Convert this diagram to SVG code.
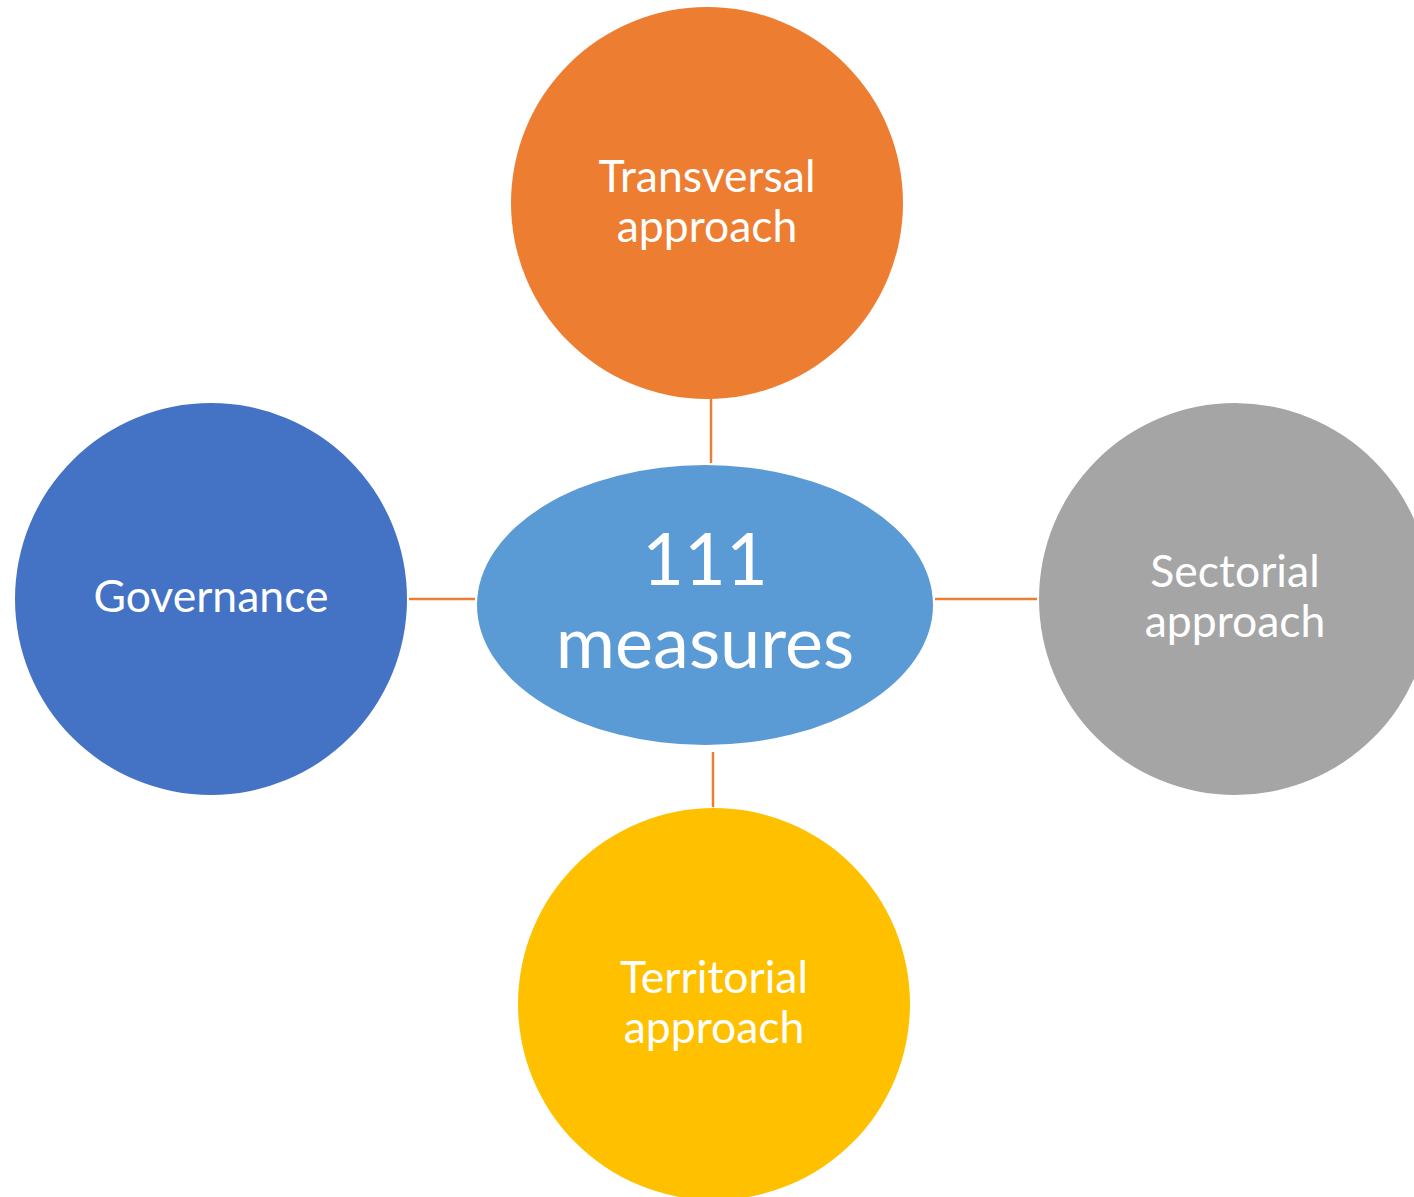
<svg xmlns="http://www.w3.org/2000/svg" width="1414" height="1197" viewBox="0 0 1414 1197">
<style>
.lbl{font-family:Lato,"Open Sans","Liberation Sans",sans-serif;fill:#ffffff;text-anchor:middle;font-size:44.5px}
.big{font-size:72px}
.conn{stroke:#ED7D31;stroke-width:2.5;fill:none}
</style>
<rect width="1414" height="1197" fill="#ffffff"/>
<g id="connectors">
<line class="conn" x1="711" y1="398" x2="711" y2="463"/>
<line class="conn" x1="409" y1="599" x2="475" y2="599"/>
<line class="conn" x1="935" y1="599" x2="1037" y2="599"/>
<line class="conn" x1="713" y1="752" x2="713" y2="807"/>
</g>
<g id="transversal">
<circle cx="707" cy="203" r="196" fill="#ED7D31"/>
<text class="lbl" x="707" y="192">Transversal</text>
<text class="lbl" x="707" y="242">approach</text>
</g>
<g id="governance">
<circle cx="211" cy="599" r="196" fill="#4472C4"/>
<text class="lbl" x="211" y="612">Governance</text>
</g>
<g id="sectorial">
<circle cx="1235" cy="599" r="196" fill="#A5A5A5"/>
<text class="lbl" x="1235" y="587">Sectorial</text>
<text class="lbl" x="1235" y="637">approach</text>
</g>
<g id="territorial">
<circle cx="714" cy="1004" r="196" fill="#FFC000"/>
<text class="lbl" x="714" y="993">Territorial</text>
<text class="lbl" x="714" y="1043">approach</text>
</g>
<g id="center">
<ellipse cx="705" cy="605" rx="228" ry="140" fill="#5B9BD5"/>
<text class="lbl big" x="705" y="585">111</text>
<text class="lbl big" x="705" y="668">measures</text>
</g>
</svg>
